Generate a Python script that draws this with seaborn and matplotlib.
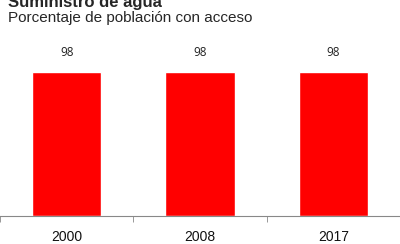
import seaborn as sns
import matplotlib.pyplot as plt
import pandas as pd

years = ['2000', '2008', '2017']
values = [98, 98, 98]

title = 'Suministro de agua'
subtitle = 'Porcentaje de población con acceso'

df = pd.DataFrame({'year': years, 'value': values})

sns.set_style('white')
plt.rcParams['font.family'] = ['Liberation Sans', 'DejaVu Sans']

fig = plt.figure(figsize=(4, 2.44), dpi=100)
ax = fig.add_axes([0, 1 - 216 / 244, 1, (216 - 69) / 244])

sns.barplot(data=df, x='year', y='value', color='#ff0000', width=0.52,
            saturation=1, ax=ax)

ax.set_ylim(0, 100)
ax.set_xlim(-0.5, 2.5)
for i, v in enumerate(values):
    ax.text(i, v + 8.5, str(v), ha='center', va='bottom', fontsize=8.5,
            family=['Open Sans', 'DejaVu Sans'], color='#222222', clip_on=False)

for s in ['top', 'right', 'left']:
    ax.spines[s].set_visible(False)
ax.spines['bottom'].set_color('#888888')
ax.spines['bottom'].set_linewidth(0.8)
ax.set_yticks([])
ax.set_xlabel('')
ax.set_ylabel('')
ax.set_xticks([-0.5, 0.5, 1.5, 2.5], minor=True)
ax.tick_params(axis='x', which='major', length=0, labelsize=10, pad=10, colors='#111111')
ax.tick_params(axis='x', which='minor', length=4, color='#888888', direction='out', bottom=True)

fig.text(0.02, 1.0 - 2 / 244, title, fontsize=12, fontweight='bold', va='center', ha='left')
fig.text(0.02, 1 - 18 / 244, subtitle, fontsize=11, va='center', ha='left')

fig.savefig('out.png', dpi=100)
